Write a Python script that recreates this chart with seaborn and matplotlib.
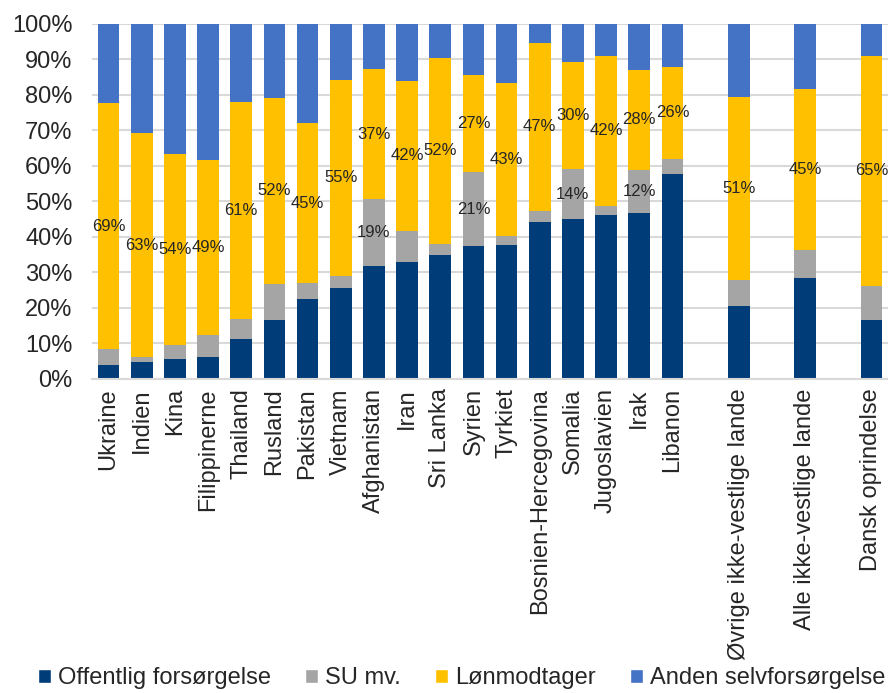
"""
Forsørgelsesgrundlag fordelt på oprindelsesland – stablede søjler.
"""

import numpy as np
import pandas as pd
import matplotlib
matplotlib.use('Agg')
import matplotlib.pyplot as plt
from matplotlib.ticker import PercentFormatter
from matplotlib.patches import Patch
import seaborn as sns

# --- data (andele i %) ---
countries = [
    'Ukraine', 'Indien', 'Kina', 'Filippinerne', 'Thailand', 'Rusland',
    'Pakistan', 'Vietnam', 'Afghanistan', 'Iran', 'Sri Lanka', 'Syrien',
    'Tyrkiet', 'Bosnien-Hercegovina', 'Somalia', 'Jugoslavien', 'Irak',
    'Libanon',
]
aggregates = ['Øvrige ikke-vestlige lande', 'Alle ikke-vestlige lande', 'Dansk oprindelse']

offentlig = [3.8, 4.7, 5.5, 6.2, 11.1, 16.6, 22.4, 25.6, 31.8, 32.8, 34.8, 37.3,
             37.6, 44.1, 44.9, 46.1, 46.8, 57.8, 20.4, 28.4, 16.6]
su = [4.5, 1.3, 3.9, 6.1, 5.6, 10.1, 4.6, 3.4, 18.8, 8.9, 3.2, 20.9,
      2.7, 3.2, 14.2, 2.6, 12.1, 4.2, 7.5, 7.8, 9.6]
loenmodtager = [69.3, 63.3, 53.9, 49.3, 61.4, 52.4, 45.0, 55.3, 36.7, 42.2, 52.4, 27.4,
                43.0, 47.4, 30.2, 42.3, 28.1, 25.9, 51.4, 45.4, 64.8]
anden = [22.4, 30.7, 36.7, 38.4, 21.9, 20.9, 28.0, 15.7, 12.7, 16.1, 9.6, 14.4,
         16.7, 5.3, 10.7, 9.0, 13.0, 12.1, 20.7, 18.4, 9.0]

series_names = ['Offentlig forsørgelse', 'SU mv.', 'Lønmodtager', 'Anden selvforsørgelse']
colors = ['#003C78', '#A5A5A5', '#FFC000', '#4472C4']

sns.set_style('white')
plt.rcParams['font.family'] = ['Liberation Sans', 'DejaVu Sans']

labels = countries + aggregates
# landene side om side, aggregaterne med et tomt felt imellem
pos = list(range(len(countries))) + [len(countries) + 1 + 2 * i for i in range(len(aggregates))]

df = pd.DataFrame({
    'pos': pos,
    'label': labels,
    series_names[0]: offentlig,
    series_names[1]: su,
    series_names[2]: loenmodtager,
    series_names[3]: anden,
})
cum = df[series_names].cumsum(axis=1)

fig = plt.figure(figsize=(8.88, 6.93), dpi=100)
ax = fig.add_axes([0.1036, 0.4538, 0.8964, 0.5116])

# tegn kumulerede lag bagfra, så de stables
for name, color in reversed(list(zip(series_names, colors))):
    sns.barplot(x=df['pos'], y=cum[name], native_scale=True, color=color,
                width=0.65, linewidth=0, saturation=1, ax=ax)

# dataetiketter
for i, row in df.iterrows():
    bottom = row[series_names[0]] + row[series_names[1]]
    ax.text(row['pos'], bottom + row[series_names[2]] / 2,
            f"{row[series_names[2]]:.0f}%", ha='center', va='center', fontsize=12)
    if row[series_names[1]] >= 11:
        ax.text(row['pos'], row[series_names[0]] + row[series_names[1]] / 2,
                f"{row[series_names[1]]:.0f}%", ha='center', va='center', fontsize=12)

ax.set_xlim(-0.5, pos[-1] + 0.5)
ax.set_ylim(0, 100)
ax.set_yticks(np.arange(0, 101, 10))
ax.yaxis.set_major_formatter(PercentFormatter(decimals=0))
ax.set_xticks(pos)
ax.set_xticklabels(labels, rotation=90, va='top', ha='center')
ax.tick_params(axis='both', length=0, labelsize=17)
ax.tick_params(axis='x', pad=7)
ax.tick_params(axis='y', pad=14)
ax.set_xlabel('')
ax.set_ylabel('')
ax.yaxis.grid(True, color='#D9D9D9', linewidth=1.5)
ax.set_axisbelow(True)
for side in ['top', 'right', 'left']:
    ax.spines[side].set_visible(False)
ax.spines['bottom'].set_color('#D9D9D9')
ax.spines['bottom'].set_linewidth(1.5)

handles = [Patch(facecolor=c, label=n) for n, c in zip(series_names, colors)]
fig.legend(handles=handles, loc='center', bbox_to_anchor=(0.52, 0.021), ncol=4,
           frameon=False, fontsize=17, handlelength=0.55, handleheight=0.55,
           handletextpad=0.3, columnspacing=1.45, borderpad=0.1)

fig.savefig('out.png', dpi=100)
